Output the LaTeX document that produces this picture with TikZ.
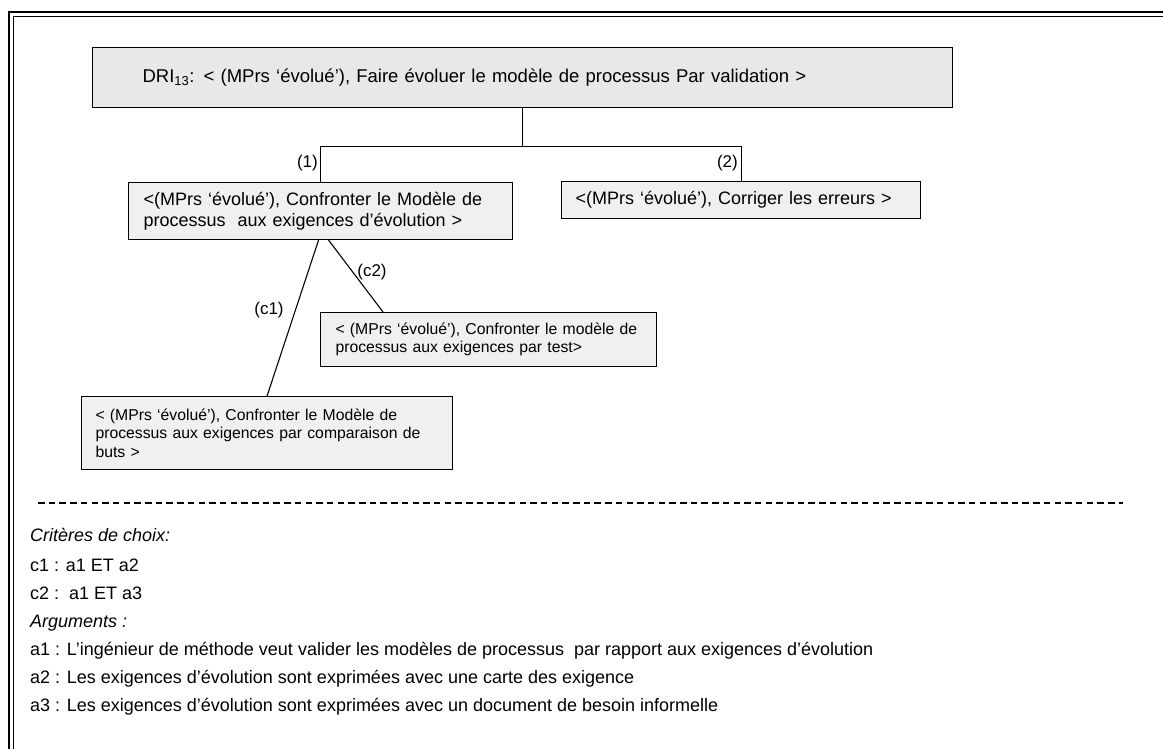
\documentclass[tikz,border=0pt]{standalone}
\usepackage{fontspec}
\setmainfont{Liberation Sans}
\usetikzlibrary{positioning}

\definecolor{rootgray}{HTML}{E8E8E8}
\definecolor{goalgray}{HTML}{F0F0F0}

\begin{document}
\begin{tikzpicture}[
  x=1pt, y=-1pt,
  font=\fontsize{18}{21}\selectfont,
  lnk/.style={line width=1.1pt, draw=black},
  goal/.style={rectangle, draw=black, line width=1.1pt, fill=goalgray,
    align=left, inner ysep=0pt, anchor=north west},
  subgoal/.style={goal, font=\fontsize{15.75}{18.5}\selectfont},
  lbl/.style={inner sep=0pt, font=\fontsize{17}{20}\selectfont},
  crit/.style={anchor=base west, inner sep=0pt},
]
\useasboundingbox (0,0) rectangle (1163,749);
\clip (0,0) rectangle (1163,749);
% ---------------- double frame (runs off the page on the right/bottom) ----
\draw[line width=2pt] (8.5,12) rectangle (1180,770);
\draw[line width=1pt] (13.5,16.5) rectangle (1175,765);
% ---------------- intention tree ----
\node[goal, fill=rootgray, inner xsep=50pt, text width=760pt, minimum height=60pt,
      font=\fontsize{18.5}{21}\selectfont] (dri) at (92,47)
  {DRI\textsubscript{13}: < (MPrs ‘évolué’), Faire évoluer le modèle de processus Par validation >};
\node[goal, inner xsep=15pt, text width=354pt, minimum height=57pt] (conf) at (128,182)
  {<(MPrs ‘évolué’), Confronter le Modèle de\\processus\ \ aux exigences d’évolution >};
\node[goal, inner xsep=14pt, text width=331pt, minimum height=37pt] (corr) at (561,181)
  {<(MPrs ‘évolué’), Corriger les erreurs >};
\node[subgoal, inner xsep=15pt, text width=306pt, minimum height=54pt] (test) at (320,312)
  {< (MPrs ‘évolué’), Confronter le modèle de\\processus aux exigences par test>};
\node[subgoal, inner xsep=14pt, text width=343pt, minimum height=73pt] (buts) at (81,396)
  {< (MPrs ‘évolué’), Confronter le Modèle de\\processus aux exigences par comparaison de\\buts >};
% AND fork below the root
\coordinate (fork) at ([yshift=-38pt]dri.south);
\draw[lnk] (dri.south) -- (fork);
\draw[lnk] (conf.north) |- (fork) -| (corr.north);
\node[lbl, anchor=east] (l1) at (318,163) {(1)};
\node[lbl, anchor=east] (l2) at (738,163) {(2)};
% OR choice between the two strategies
\draw[lnk] ([xshift=-2pt]conf.south) -- (buts.north);
\draw[lnk] ([xshift=8pt]conf.south) -- ([xshift=63pt]test.north west);
\node[lbl] (lc1) at (269,310) {(c1)};
\node[lbl] (lc2) at (372,272) {(c2)};
% ---------------- criteria and arguments ----
\draw[line width=1.2pt, dash pattern=on 6.5pt off 4.2pt] (38,503) -- (1123,503);
\node[crit] (crt) at (30,541) {\itshape Critères de choix:};
\node[crit] (c1) at (30,571) {c1 : a1 ET a2};
\node[crit] (c2) at (30,599) {c2 :\ \ a1 ET a3};
\node[crit] (arg) at (30,627) {\itshape Arguments :};
\node[crit] (a1) at (30,655) {a1 : L’ingénieur de méthode veut valider les modèles de processus\ \ par rapport aux exigences d’évolution};
\node[crit] (a2) at (30,683) {a2 : Les exigences d’évolution sont exprimées avec une carte des exigence};
\node[crit] (a3) at (30,711) {a3 : Les exigences d’évolution sont exprimées avec un document de besoin informelle};
\end{tikzpicture}
\end{document}
